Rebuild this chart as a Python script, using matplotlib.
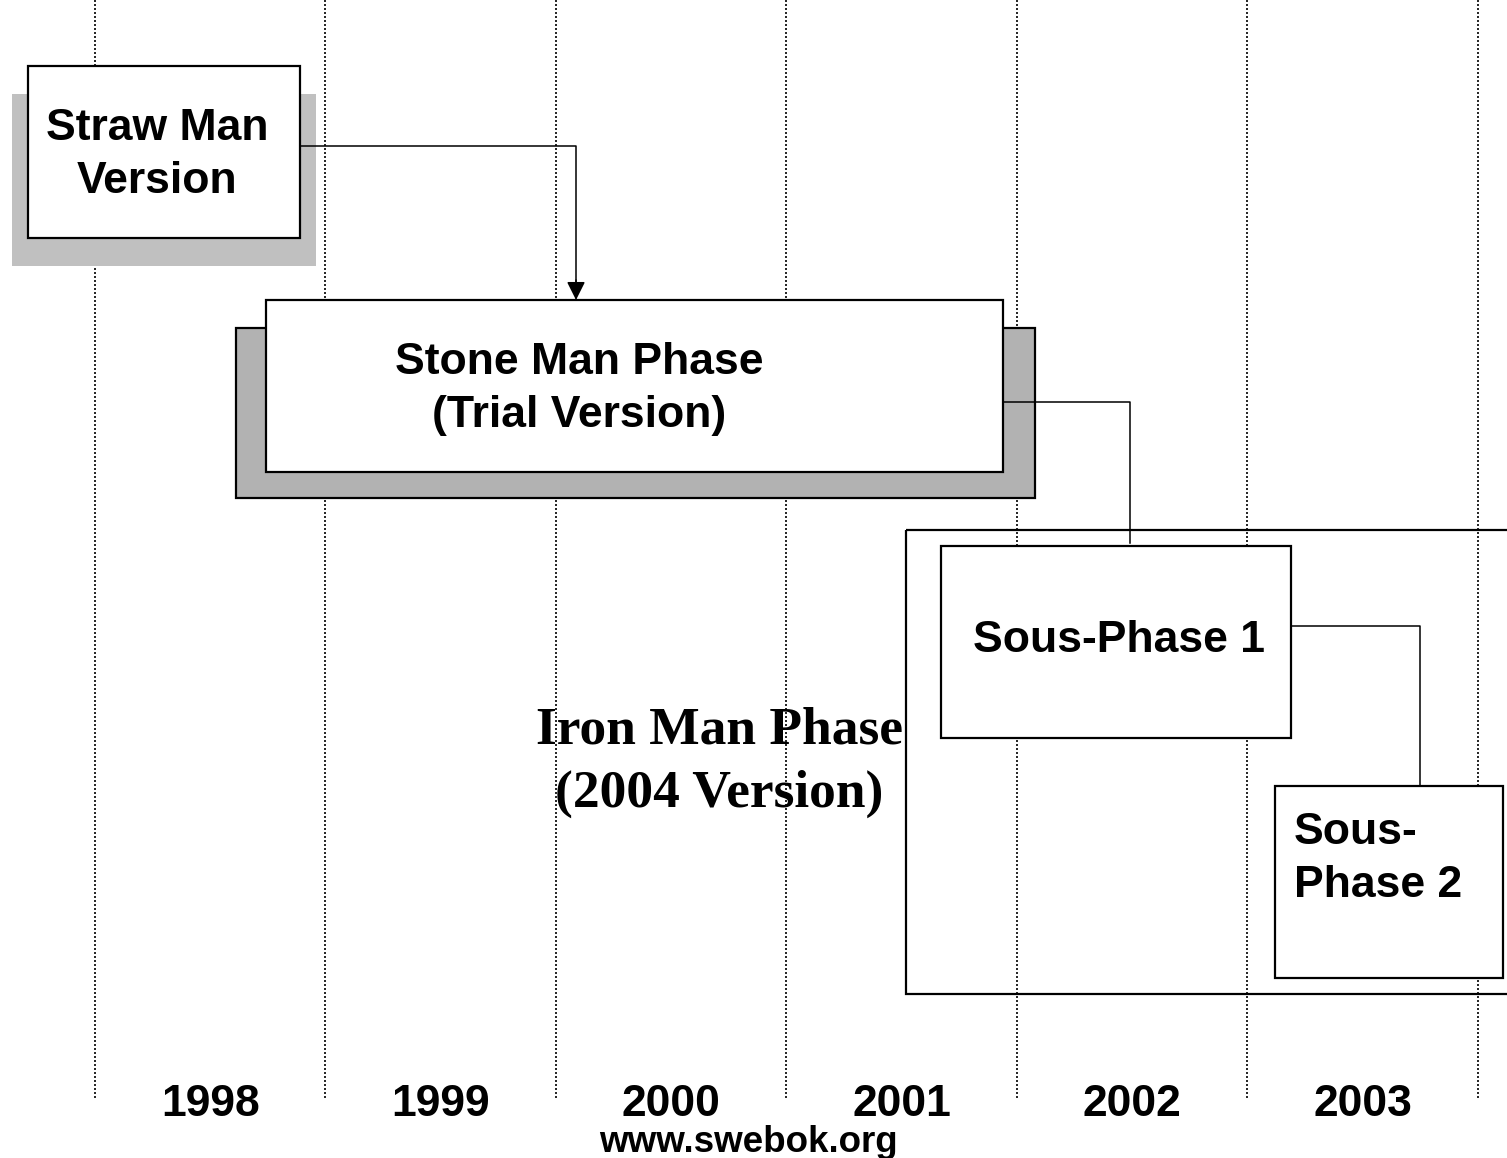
import matplotlib.pyplot as plt
from matplotlib.patches import Rectangle

# années de la frise
years = [1998, 1999, 2000, 2001, 2002, 2003]
bounds = [1998, 1999, 2000, 2001, 2002, 2003, 2004]

# phases : (début, fin) en années, (haut, bas) en lignes
straw_span = (1997.71, 1998.89)
straw_rows = (66, 238)
straw_shadow_span = (1997.64, 1998.96)
straw_shadow_rows = (94, 266)

stone_span = (1998.74, 2001.94)
stone_rows = (300, 472)
stone_shadow_span = (1998.61, 2002.08)
stone_shadow_rows = (328, 498)

iron_span = (2001.52, 2004.14)
iron_rows = (530, 994)
sp1_span = (2001.67, 2003.19)
sp1_rows = (546, 738)
sp2_span = (2003.12, 2004.11)
sp2_rows = (786, 978)

fig = plt.figure(figsize=(15.07, 11.58), dpi=100)
ax = fig.add_axes([0, 0, 1, 1])
ax.set_xlim(1997.588, 2004.126)
ax.set_ylim(1158, 0)
ax.axis("off")

sans = "Liberation Sans"
serif = "Liberation Serif"

# lignes pointillées entre les années
ax.vlines(bounds, 0, 1098, colors="black", linewidth=1.2,
          linestyles=(0, (1.2, 1.2)), zorder=1)


def box(span, rows, face="white", edge="black", lw=1.6, z=3):
    r = Rectangle((span[0], rows[0]), span[1] - span[0], rows[1] - rows[0],
                  facecolor=face, edgecolor=edge, linewidth=lw, zorder=z)
    ax.add_patch(r)


# Straw Man
box(straw_shadow_span, straw_shadow_rows, face="#c0c0c0", edge="none", z=2)
box(straw_span, straw_rows)
ax.text(1998.27, 155, "Straw Man\nVersion", ha="center", va="center",
        fontsize=32, fontweight="bold", family=sans, linespacing=1.38, zorder=5)

# Stone Man
box(stone_shadow_span, stone_shadow_rows, face="#b2b2b2", z=2)
box(stone_span, stone_rows)
ax.text(2000.10, 389, "Stone Man Phase\n(Trial Version)", ha="center", va="center",
        fontsize=32, fontweight="bold", family=sans, linespacing=1.38, zorder=5)

# Iron Man
box(iron_span, iron_rows, face="none", z=3)
box(sp1_span, sp1_rows)
box(sp2_span, sp2_rows)
ax.text(2000.71, 762, "Iron Man Phase\n(2004 Version)", ha="center", va="center",
        fontsize=38.5, fontweight="bold", family=serif, linespacing=1.42, zorder=5)
ax.text(2001.81, 640, "Sous-Phase 1", ha="left", va="center",
        fontsize=32, fontweight="bold", family=sans, zorder=5)
ax.text(2003.20, 859, "Sous-\nPhase 2", ha="left", va="center",
        fontsize=32, fontweight="bold", family=sans, linespacing=1.38, zorder=5)

# connecteurs
ax.plot([straw_span[1], 2000.087, 2000.087], [146, 146, 285],
        color="black", linewidth=1.1, zorder=4)
ax.annotate("", xy=(2000.087, stone_rows[0]), xytext=(2000.087, 280),
            arrowprops=dict(arrowstyle="-|>", color="black", lw=1.1,
                            mutation_scale=28, shrinkA=0, shrinkB=0), zorder=4)
ax.plot([stone_span[1], 2002.49, 2002.49], [402, 402, 543],
        color="black", linewidth=1.1, zorder=4)
ax.plot([sp1_span[1], 2003.748, 2003.748], [626, 626, sp2_rows[0]],
        color="black", linewidth=1.1, zorder=4)

# années
for y in years:
    ax.text(y + 0.5, 1104, str(y), ha="center", va="center",
            fontsize=32, fontweight="bold", family=sans)

ax.text(2000.833, 1142, "www.swebok.org", ha="center", va="center",
        fontsize=26.5, fontweight="bold", family=sans)

fig.savefig("out.png", dpi=100)
